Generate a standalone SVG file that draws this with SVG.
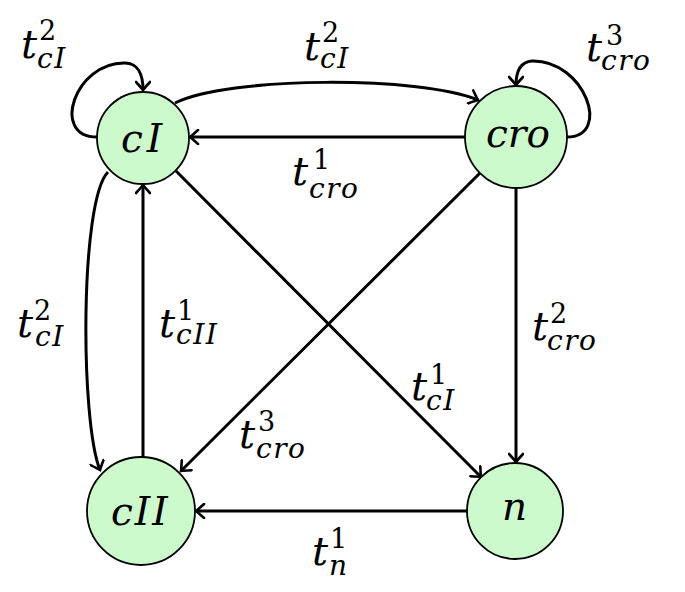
<svg xmlns="http://www.w3.org/2000/svg" width="685" height="592" viewBox="0 0 685 592">
<defs>
<style>
.node circle{fill:#ccfacc;stroke:#000;stroke-width:1.8}
.nt{font-family:'DejaVu Serif',serif;font-style:italic;font-size:39px;fill:#000}
.e{fill:none;stroke:#000;stroke-width:3;marker-end:url(#arr)}
.t{font-family:'DejaVu Serif',serif;font-style:italic;font-size:40px;fill:#000}
.s{font-style:italic;font-size:28px;letter-spacing:1.5px}
.p{font-style:normal;font-size:27px}
</style>
<marker id="arr" markerUnits="userSpaceOnUse" viewBox="-10 -8 12 16" markerWidth="12" markerHeight="16" refX="0" refY="0" orient="auto">
<path d="M-8,-7 Q-2,-1.5 0,0 Q-2,1.5 -8,7" fill="none" stroke="#000" stroke-width="2.6" stroke-linecap="round"/>
</marker>
</defs>
<rect width="685" height="592" fill="#fff"/>
<g id="connectors">
<path class="e" d="M97,137 C50,137 75,62 125,63 C138,63 143,75 143,90"/>
<path class="e" d="M567,137 C612,137 585,60 532,61 C520,62 516,72 516,85"/>
<path class="e" d="M175,103 C230,76 420,76 478,100"/>
<path class="e" d="M465,137 L190,137"/>
<path class="e" d="M516,188 L516,462"/>
<path class="e" d="M480,173 L181,471"/>
<path class="e" d="M176,171 L481,477"/>
<path class="e" d="M143,457 L143,185"/>
<path class="e" d="M108,172 C80,200 80,420 100,470"/>
<path class="e" d="M467,511 L196,511"/>
</g>
<g id="node-cI" class="node"><circle cx="143" cy="138" r="46"/><text class="nt" x="121" y="152" letter-spacing="4">cI</text></g>
<g id="node-cro" class="node"><circle cx="516" cy="137" r="51"/><text class="nt" x="486" y="147">cro</text></g>
<g id="node-cII" class="node"><circle cx="141" cy="511" r="54"/><text class="nt" x="111" y="525" letter-spacing="2">cII</text></g>
<g id="node-n" class="node"><circle cx="515" cy="511" r="48"/><text class="nt" x="502" y="520">n</text></g>
<g id="labels">
<text class="t" x="21" y="58">t<tspan class="p" x="39" y="40">2</tspan><tspan class="s" x="37" y="68">cI</tspan></text>
<text class="t" x="304" y="60">t<tspan class="p" x="322" y="42">2</tspan><tspan class="s" x="320" y="68">cI</tspan></text>
<text class="t" x="586" y="61">t<tspan class="p" x="606" y="45">3</tspan><tspan class="s" x="601" y="70">cro</tspan></text>
<text class="t" x="292" y="185">t<tspan class="p" x="313" y="169">1</tspan><tspan class="s" x="309" y="198">cro</tspan></text>
<text class="t" x="17" y="337">t<tspan class="p" x="34" y="320">2</tspan><tspan class="s" x="35" y="346">cI</tspan></text>
<text class="t" x="159" y="337">t<tspan class="p" x="177" y="320">1</tspan><tspan class="s" x="176" y="344">cII</tspan></text>
<text class="t" x="239" y="448">t<tspan class="p" x="258" y="431">3</tspan><tspan class="s" x="256" y="458">cro</tspan></text>
<text class="t" x="411" y="400">t<tspan class="p" x="430" y="384">1</tspan><tspan class="s" x="426" y="410">cI</tspan></text>
<text class="t" x="532" y="340">t<tspan class="p" x="550" y="323">2</tspan><tspan class="s" x="547" y="350">cro</tspan></text>
<text class="t" x="312" y="565">t<tspan class="p" x="330" y="548">1</tspan><tspan class="s" x="329" y="575">n</tspan></text>
</g>
</svg>
